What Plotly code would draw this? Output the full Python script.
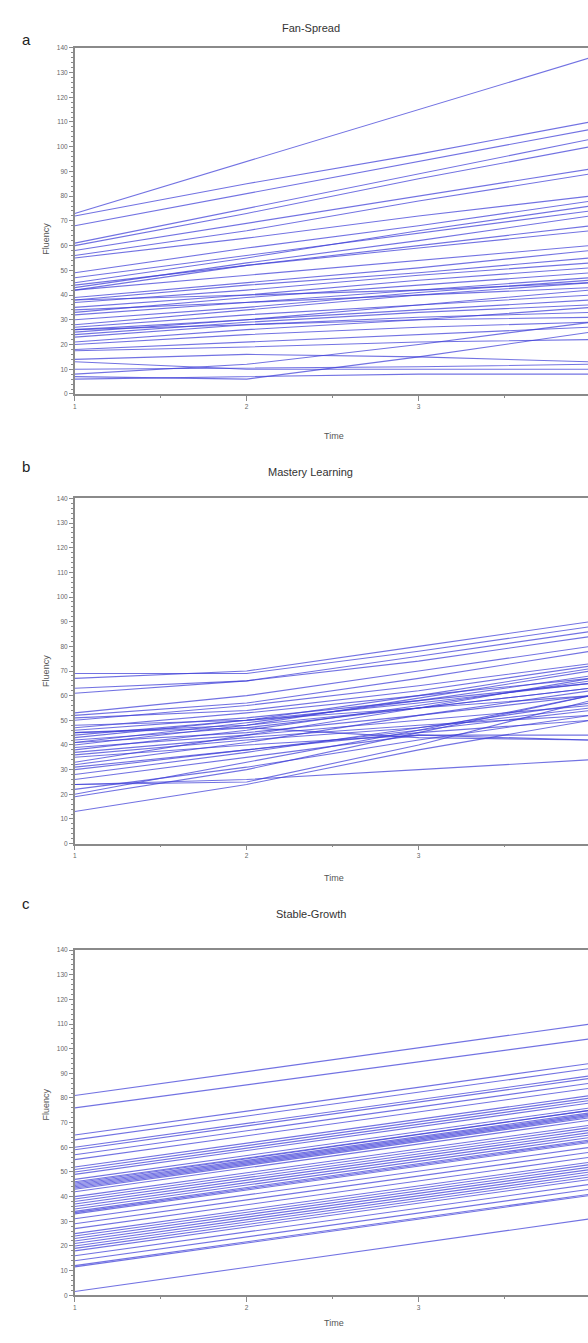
import plotly.graph_objects as go

# ---------------- data ----------------
times = [1, 2, 3, 4]

fan_spread = [
    [73, 94, 115, 136], [72, 85, 97, 110], [68, 81, 94, 107], [61, 75, 89, 103],
    [60, 73, 87, 100], [58, 69, 80, 91], [56, 66, 78, 89], [55, 63, 72, 80],
    [49, 59, 68, 78], [47, 56, 65, 74], [45, 55, 66, 76], [43, 53, 62, 72],
    [42, 52, 60, 68], [44, 52, 59, 66], [42, 48, 54, 60], [39, 45, 51, 58],
    [38, 44, 49, 55], [37, 42, 48, 53], [35, 40, 46, 51], [33, 39, 44, 49],
    [32, 37, 42, 47], [38, 40, 42, 45], [34, 37, 40, 43], [30, 35, 41, 46],
    [28, 34, 40, 45], [27, 32, 36, 40], [26, 30, 34, 38], [25, 30, 36, 42],
    [24, 29, 33, 36], [23, 28, 31, 33], [26, 28, 30, 31], [21, 26, 30, 35],
    [20, 24, 27, 29], [18, 21, 24, 27], [17.5, 19, 21, 22], [14, 16, 15, 13],
    [13, 10, 10, 10], [10, 10.5, 11, 12], [8, 12, 20, 29], [7, 6, 15, 25],
    [6, 7, 8, 8],
]

mastery = [
    [69, 69, 78, 88], [67, 70, 80, 90], [63, 66, 74, 84], [61, 66, 76, 86],
    [53, 60, 70, 80], [52, 57, 67, 78], [51, 54, 62, 72], [50, 56, 64, 73],
    [48, 50, 55, 60], [47, 53, 60, 67], [46, 51, 58, 65], [45, 48, 55, 63],
    [44, 50, 57, 65], [42, 47, 55, 63], [41, 45, 52, 60], [40, 48, 59, 70],
    [39, 44, 50, 56], [38, 46, 56, 66], [37, 43, 48, 52], [36, 42, 47, 55],
    [35, 40, 44, 42], [45, 47, 43, 42], [33, 44, 55, 67], [32, 41, 52, 62],
    [31, 38, 46, 54], [30, 38, 45, 50], [28, 37, 47, 57], [26, 35, 44, 44],
    [24, 25, 40, 58], [24, 26, 30, 34], [19, 30, 45, 60], [13, 24, 38, 50],
    [22, 31, 42, 52], [20, 33, 46, 60], [41, 49, 58, 68], [43, 50, 60, 71],
]

stable_start = [81, 76, 65, 63, 60, 59, 57, 55, 52, 51, 50, 49, 47, 46, 45.5,
                45, 44.5, 44, 43.5, 43, 42, 40, 39, 38, 37, 36, 35, 34, 33.5,
                33, 31, 29, 27, 25, 24, 23, 22, 21, 20, 19, 18, 16, 14, 12,
                11.5, 1.5]
stable_end = [110, 104, 94, 92, 89, 88, 86, 84, 81, 80, 79, 78, 76, 75, 75,
              74, 73.5, 73, 72.5, 72, 71, 69, 68, 67, 66, 65, 64, 63, 62.5,
              62, 60, 58, 56, 54, 53, 52, 51, 50, 49, 48, 47, 45, 43, 41,
              40.5, 31]
stable_times = [1, 4]

panel_titles = ["Fan-Spread", "Mastery Learning", "Stable-Growth"]
panel_letters = ["a", "b", "c"]
y_ticks = list(range(0, 150, 10))
x_ticks = [1, 2, 3]

# ---------------- layout helpers (pixel geometry) ----------------
W, H = 588, 1343
LINE_COLOR = "rgba(60,60,215,0.72)"
AXIS_COLOR = "#8a8a8a"

def py(p):
    return 1 - p / H

panels = [
    dict(top=44, bottom=392, title_y=16, letter_y=25, time_y=427),
    dict(top=497, bottom=844, title_y=470, letter_y=465, time_y=879),
    dict(top=951, bottom=1298, title_y=923, letter_y=915, time_y=1333),
]
x_left_px = 73
px_per_unit = 172.5
x_max = 1 + (W - x_left_px) / px_per_unit

fig = go.Figure()

datasets = [fan_spread, mastery, None]
for i in range(3):
    xa = "x" if i == 0 else f"x{i+1}"
    ya = "y" if i == 0 else f"y{i+1}"
    if datasets[i] is not None:
        for series in datasets[i]:
            fig.add_trace(go.Scatter(x=times, y=series, mode="lines",
                                     line=dict(color=LINE_COLOR, width=1.1),
                                     xaxis=xa, yaxis=ya, showlegend=False,
                                     hoverinfo="skip"))
    else:
        for s, e in zip(stable_start, stable_end):
            fig.add_trace(go.Scatter(x=stable_times, y=[s, e], mode="lines",
                                     line=dict(color=LINE_COLOR, width=1.1),
                                     xaxis=xa, yaxis=ya, showlegend=False,
                                     hoverinfo="skip"))

layout = dict(width=W, height=H, margin=dict(l=0, r=0, t=0, b=0),
              paper_bgcolor="white", plot_bgcolor="white", showlegend=False)

annotations = []
for i, p in enumerate(panels):
    sx = "" if i == 0 else str(i + 1)
    layout[f"xaxis{sx}"] = dict(
        domain=[x_left_px / W, 1.0], range=[1, x_max], anchor=f"y{sx}",
        tickvals=x_ticks, ticks="outside", ticklen=5, tickcolor=AXIS_COLOR,
        tickfont=dict(size=6.5, color="#666", family="Liberation Sans"),
        showline=True, linecolor=AXIS_COLOR, linewidth=1.5, mirror=True,
        showgrid=False, zeroline=False,
        minor=dict(dtick=0.5, ticks="outside", ticklen=2, tickcolor=AXIS_COLOR),
    )
    layout[f"yaxis{sx}"] = dict(
        domain=[py(p["bottom"]), py(p["top"])], range=[0, 140], anchor=f"x{sx}",
        tickvals=y_ticks, ticks="outside", ticklen=4, tickcolor=AXIS_COLOR,
        tickfont=dict(size=6.5, color="#666", family="Liberation Sans"),
        showline=True, linecolor=AXIS_COLOR, linewidth=1.5,
        showgrid=False, zeroline=False,
        minor=dict(dtick=2, ticks="outside", ticklen=2, tickcolor=AXIS_COLOR),
    )
    annotations.append(dict(text=panel_titles[i], x=310 / W, y=py(p["title_y"]),
                            xref="paper", yref="paper", showarrow=False,
                            font=dict(size=11, color="#333", family="Liberation Sans")))
    annotations.append(dict(text=panel_letters[i], x=18 / W, y=py(p["letter_y"]),
                            xref="paper", yref="paper", showarrow=False,
                            font=dict(size=15, color="#222", family="Liberation Sans")))
    annotations.append(dict(text="Time", x=333 / W, y=py(p["time_y"]),
                            xref="paper", yref="paper", showarrow=False,
                            font=dict(size=9, color="#555", family="Liberation Sans")))
    annotations.append(dict(text="Fluency", x=37 / W,
                            y=py((p["top"] + p["bottom"]) / 2),
                            xref="paper", yref="paper", showarrow=False, textangle=-90,
                            font=dict(size=9, color="#555", family="Liberation Sans")))

layout["annotations"] = annotations
fig.update_layout(**layout)
fig.write_html("out.html", config={"displayModeBar": False},
               post_script="document.body.style.margin='0';document.body.style.overflow='hidden';")
